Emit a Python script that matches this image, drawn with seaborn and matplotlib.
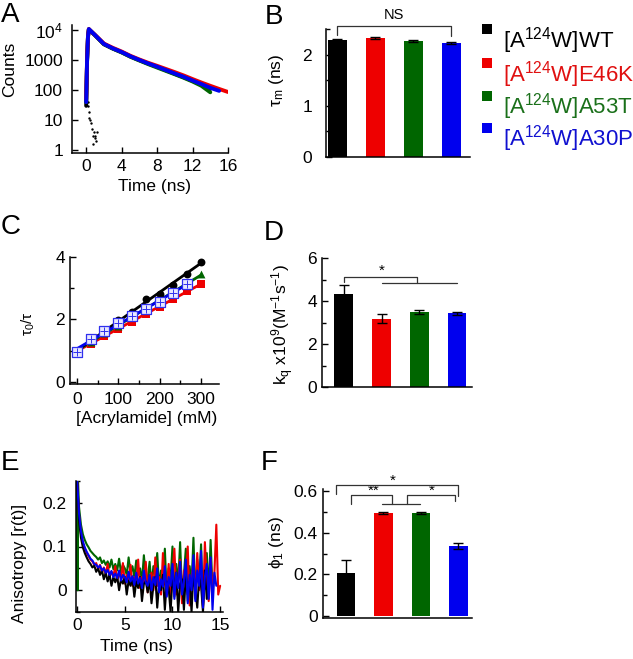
import numpy as np
import pandas as pd
import matplotlib
matplotlib.use("Agg")
import matplotlib.pyplot as plt
import seaborn as sns
from matplotlib.patches import Rectangle
from matplotlib.ticker import MultipleLocator, NullLocator, FixedLocator

# ---------------- data ----------------
groups = ["[A$^{124}$W]WT", "[A$^{124}$W]E46K", "[A$^{124}$W]A53T", "[A$^{124}$W]A30P"]
group_keys = ["WT", "E46K", "A53T", "A30P"]
bar_colors = ["#000000", "#ee0000", "#006600", "#0000ee"]
text_colors = ["#000000", "#e01010", "#1a701a", "#1010d0"]

# Panel A: fluorescence decay (counts)
tA = [0.0, 0.1, 0.2, 0.3, 0.6, 1, 2, 3, 4, 5, 6, 7, 8, 9, 10, 11, 12, 13, 14, 15, 16]
countsA_WT = [30, 900, 5800, 10500, 8800, 6800, 3450, 2450, 1850, 1330, 1000, 770, 600, 460, 350, 270, 205, 150, 110]
countsA_E46K = [50, 1100, 6000, 11000, 9000, 7000, 3600, 2600, 1950, 1400, 1060, 820, 650, 510, 400, 310, 235, 180, 140, 110, 87]
countsA_A53T = [40, 950, 5900, 10800, 8900, 6800, 3400, 2450, 1820, 1300, 980, 740, 570, 440, 340, 260, 195, 140, 85]
countsA_A30P = [40, 1000, 6000, 11000, 9000, 6900, 3500, 2500, 1880, 1350, 1020, 780, 610, 470, 360, 280, 210, 160, 120, 95]
irf_t = [0.15, 0.25, 0.3, 0.35, 0.45, 0.55, 0.7, 0.8, 0.9, 1.0, 1.1, 1.2, 0.75, 0.95]
irf_counts = [40, 30, 18, 12, 10, 8, 5, 3, 4, 3, 2, 4, 1.6, 2.5]

# Panel B: mean lifetime
tau_m = [2.28, 2.32, 2.27, 2.23]
tau_m_err = [0.02, 0.02, 0.015, 0.02]

# Panel C: Stern-Volmer
conc = [0, 33, 66, 100, 133, 166, 200, 233, 266, 300]
sv_WT = [1.0, 1.3, 1.6, 1.97, 2.25, 2.65, 2.83, 3.1, 3.45, 3.85]
sv_E46K = [0.98, 1.22, 1.48, 1.7, 1.93, 2.18, 2.4, 2.65, 2.9, 3.13]
sv_A53T = [1.0, 1.28, 1.55, 1.8, 2.08, 2.35, 2.6, 2.87, 3.12, 3.45]
sv_A30P = [0.97, 1.37, 1.63, 1.87, 2.1, 2.32, 2.55, 2.85, 3.15]

# Panel D: quenching constant
kq = [4.31, 3.18, 3.50, 3.43]
kq_err = [0.43, 0.2, 0.1, 0.08]

# Panel E: anisotropy decays (sampled every 0.2 ns)
tE = [round(0.2 * i, 2) for i in range(76)]
rE_WT = [0.25, 0.16, 0.12, 0.098, 0.085, 0.075, 0.066, 0.060, 0.052, 0.056, 0.042,
         0.050, 0.035, 0.045, 0.025, 0.040, 0.020, 0.036, 0.010, 0.030, 0.018,
         0.032, 0.000, 0.025, 0.015, 0.030, -0.010, 0.022, 0.010, 0.028, -0.015,
         0.020, 0.005, 0.030, -0.025, 0.015, 0.020, -0.005, 0.025, -0.030, 0.010,
         0.030, -0.040, 0.015, 0.000, 0.035, -0.045, 0.020, 0.005, -0.050, 0.030,
         0.000, 0.040, -0.050, 0.015, 0.025, -0.045, 0.035, -0.010, 0.020, -0.050,
         0.040, 0.000, -0.040, 0.030, 0.010, -0.050, 0.045, -0.020, 0.015]
rE_E46K = [0.25, 0.17, 0.13, 0.108, 0.095, 0.085, 0.078, 0.070, 0.066, 0.058, 0.062,
           0.048, 0.058, 0.040, 0.052, 0.036, 0.060, 0.030, 0.042, 0.032, 0.055,
           0.022, 0.040, 0.028, 0.062, 0.015, 0.035, 0.025, 0.058, 0.010, 0.030,
           0.020, 0.070, 0.005, 0.030, 0.015, 0.065, -0.005, 0.025, 0.040, 0.000,
           0.075, 0.010, 0.030, -0.010, 0.085, 0.015, 0.000, 0.060, -0.020, 0.040,
           0.095, -0.010, 0.025, 0.070, -0.030, 0.045, 0.010, 0.100, -0.035, 0.030,
           0.060, -0.015, 0.085, 0.000, 0.050, -0.040, 0.110, 0.020, -0.025, 0.070,
           0.005, 0.040, 0.150, -0.010, 0.010]
rE_A53T = [0.25, 0.19, 0.15, 0.128, 0.115, 0.105, 0.098, 0.090, 0.085, 0.080, 0.076,
           0.070, 0.075, 0.062, 0.068, 0.058, 0.066, 0.052, 0.070, 0.048, 0.060,
           0.045, 0.072, 0.040, 0.058, 0.050, 0.035, 0.075, 0.038, 0.055, 0.030,
           0.068, 0.035, 0.050, 0.020, 0.080, 0.030, 0.025, 0.065, 0.010, 0.055,
           0.030, 0.085, 0.005, 0.045, 0.020, 0.095, -0.010, 0.050, 0.025, 0.100,
           -0.015, 0.060, 0.015, 0.110, -0.005, 0.035, 0.095, -0.025, 0.055, 0.010,
           0.120, -0.020, 0.070, 0.020, 0.105, -0.035, 0.050, 0.085, -0.010, 0.115,
           0.000]
rE_A30P = [0.25, 0.175, 0.135, 0.112, 0.098, 0.088, 0.080, 0.072, 0.068, 0.060, 0.058,
           0.052, 0.056, 0.045, 0.050, 0.040, 0.046, 0.035, 0.044, 0.030, 0.038,
           0.028, 0.045, 0.022, 0.035, 0.030, 0.018, 0.042, 0.020, 0.032, 0.012,
           0.040, 0.015, 0.028, 0.005, 0.045, 0.018, 0.010, 0.035, 0.000, 0.030,
           0.012, 0.050, -0.005, 0.025, 0.008, 0.055, -0.015, 0.030, 0.010, 0.060,
           -0.020, 0.040, 0.005, 0.065, -0.010, 0.020, 0.070, -0.030, 0.035, 0.000,
           0.080, -0.025, 0.045, 0.010, 0.090, -0.040, 0.030, 0.060, -0.020, 0.075,
           -0.045, 0.040, 0.010]
rE_A53T_start_t = [0.0, 0.03, 0.06, 0.09]
rE_A53T_start = [0.0, 0.25, 0.0, 0.25]

# Panel F: rotational correlation time
phi1 = [0.205, 0.495, 0.495, 0.335]
phi1_err = [0.065, 0.005, 0.005, 0.015]

# ---------------- style ----------------
sns.set_theme(style="ticks", rc={
    "axes.edgecolor": "black", "xtick.color": "black", "ytick.color": "black",
    "text.color": "black", "axes.labelcolor": "black", "axes.linewidth": 1.1,
})
plt.rcParams['font.family'] = ['Liberation Sans', 'DejaVu Sans']
plt.rcParams['mathtext.default'] = 'regular'

W, H = 633, 659
fig = plt.figure(figsize=(W / 100, H / 100), dpi=100)
fig.patch.set_facecolor("white")
FS = 12.5


def add_ax(x0, y0, x1, y1):
    ax = fig.add_axes([x0 / W, 1 - y1 / H, (x1 - x0) / W, (y1 - y0) / H])
    ax.set_facecolor("none")
    sns.despine(ax=ax)
    return ax


def ylab(ax, text, xp, yp, fs=FS):
    ax.set_ylabel(text, fontsize=fs, ha="center", va="center")
    ax.yaxis.set_label_coords(xp / W, 1 - yp / H, transform=fig.transFigure)


def xlab(ax, text, xp, yp, fs=FS):
    ax.set_xlabel(text, fontsize=fs, ha="center", va="center")
    ax.xaxis.set_label_coords(xp / W, 1 - yp / H, transform=fig.transFigure)


def ticks(ax, xpad=4.3, ypad=4):
    ax.tick_params(axis="both", which="both", direction="in", width=1.0, labelsize=FS)
    ax.tick_params(axis="both", which="major", length=4)
    ax.tick_params(axis="both", which="minor", length=3)
    ax.tick_params(axis="x", pad=xpad)
    ax.tick_params(axis="y", pad=ypad)


def bar_panel(ax, vals, errs, ylim):
    df = pd.DataFrame({"g": group_keys, "v": vals})
    sns.barplot(data=df, x="g", y="v", hue="g", palette=dict(zip(group_keys, bar_colors)),
                width=0.5, saturation=1, linewidth=0, legend=False, ax=ax)
    ax.errorbar(range(len(vals)), vals, yerr=errs, fmt="none", ecolor="black",
                elinewidth=1.0, capsize=3.5, capthick=1.0, zorder=5)
    ax.set_ylim(*ylim)
    ax.set_xticks([])
    ax.set_xlabel("")


def bracket(ax, pts, lw=0.9):
    xs, ys = zip(*pts)
    ax.plot(xs, ys, color="#333333", lw=lw, clip_on=False, zorder=6)


# ---------------- Panel A ----------------
axA = add_ax(72, 25, 228, 153)
axA.set_yscale("log")
series_A = [(countsA_WT, "#000000"), (countsA_A53T, "#006600"), (countsA_E46K, "#ee0000"),
            (countsA_A30P, "#0000ee")]
for vals, col in series_A:
    sns.lineplot(x=tA[:len(vals)], y=vals, color=col, lw=2.8, ax=axA, sort=False)
sns.scatterplot(x=irf_t, y=irf_counts, color="black", s=3, linewidth=0, ax=axA)
axA.set_xlim(-1.6, 16)
axA.set_ylim(0.8, 1.5e4)
axA.yaxis.set_major_locator(FixedLocator([1, 10, 100, 1000, 10000]))
axA.set_yticklabels(["1", "10", "100", "1000", "10$^4$"])
axA.yaxis.set_minor_locator(NullLocator())
axA.set_xticks([0, 4, 8, 12, 16])
ticks(axA, xpad=4.3, ypad=6.5)
ylab(axA, "Counts", 10, 69)
xlab(axA, "Time (ns)", 154, 186)

# ---------------- Panel B ----------------
axB = add_ax(326, 29, 470, 157)
bar_panel(axB, tau_m, tau_m_err, (0, 2.5))
axB.set_xlim(-0.3, 3.5)
axB.set_yticks([0, 1, 2])
axB.yaxis.set_minor_locator(MultipleLocator(0.5))
ticks(axB, ypad=10)
ylab(axB, "τ$_m$ (ns)", 276, 80)
bracket(axB, [(0, 2.38), (0, 2.55), (3, 2.55), (3, 2.37)])
axB.text(1.5, 2.63, "NS", ha="center", va="bottom", fontsize=10.5, clip_on=False)

# legend
leg_base = [47, 81, 114, 146]
for lab, col, tcol, yb in zip(groups, bar_colors, text_colors, leg_base):
    fig.add_artist(Rectangle((482 / W, 1 - (yb - 13) / H), 10 / W, 10 / H,
                             transform=fig.transFigure, facecolor=col, edgecolor="none"))
    fig.text(503 / W, 1 - yb / H, lab, color=tcol, fontsize=16, ha="left", va="baseline")

# ---------------- Panel C ----------------
axC = add_ax(70, 257, 219, 384)
c_series = [(sv_E46K, "#ee0000", "s"), (sv_A53T, "#006600", "^"), (sv_WT, "#000000", "o")]
for vals, col, mk in c_series:
    x = conc[:len(vals)]
    sns.regplot(x=x, y=vals, ci=None, scatter=False, color=col, truncate=True,
                line_kws={"lw": 2.0}, ax=axC)
    sns.scatterplot(x=x, y=vals, color=col, marker=mk, s=32, linewidth=0, ax=axC, zorder=4)
xb = conc[:len(sv_A30P)]
sns.regplot(x=xb, y=sv_A30P, ci=None, scatter=False, color="#0000ee", truncate=True,
            line_kws={"lw": 2.0}, ax=axC)
sns.scatterplot(x=xb, y=sv_A30P, marker="s", s=45, facecolor="#e8e8ff", edgecolor="#3030ee",
                linewidth=0.9, ax=axC, zorder=5)
sns.scatterplot(x=xb, y=sv_A30P, marker="+", s=30, color="#3030ee", linewidth=0.7, ax=axC, zorder=6)
axC.set_xlim(-17, 344)
axC.set_ylim(-0.07, 4.0)
axC.set_xticks([0, 100, 200, 300])
axC.xaxis.set_minor_locator(MultipleLocator(50))
axC.set_yticks([0, 2, 4])
axC.yaxis.set_minor_locator(MultipleLocator(1))
ticks(axC, xpad=5.5, ypad=3.6)
ylab(axC, "τ$_0$/τ", 28, 324, fs=11)
xlab(axC, "[Acrylamide] (mM)", 147, 418)

# ---------------- Panel D ----------------
axD = add_ax(322, 258, 472, 387)
bar_panel(axD, kq, kq_err, (0, 6))
axD.set_xlim(-0.58, 3.4)
axD.set_yticks([0, 2, 4, 6])
axD.yaxis.set_minor_locator(MultipleLocator(1))
ticks(axD, ypad=3.6)
ylab(axD, "k$_q$ x10$^9$(M$^{-1}$s$^{-1}$)", 283, 325)
bracket(axD, [(0, 4.9), (0, 5.13), (1.95, 5.13), (1.95, 4.84)])
bracket(axD, [(1, 4.84), (3, 4.84)])
axD.text(1.0, 5.08, "*", ha="center", va="bottom", fontsize=11, clip_on=False)

# ---------------- Panel E ----------------
axE = add_ax(76, 481, 223, 612)
e_series = [(rE_A53T_start_t + tE[1:len(rE_A53T)], rE_A53T_start + rE_A53T[1:], "#006600"),
            (tE[:len(rE_E46K)], rE_E46K, "#ee0000"),
            (tE[:len(rE_WT)], rE_WT, "#000000"),
            (tE[:len(rE_A30P)], rE_A30P, "#0000ee")]
for tt, vals, col in e_series:
    sns.lineplot(x=tt, y=vals, color=col, lw=1.5, ax=axE, sort=False)
axE.set_xlim(-0.12, 15.3)
axE.set_ylim(-0.05, 0.25)
axE.set_xticks([0, 5, 10, 15])
axE.set_yticks([0, 0.1, 0.2])
axE.set_yticklabels(["0", "0.1", "0.2"])
axE.yaxis.set_minor_locator(MultipleLocator(0.05))
ticks(axE, xpad=4.3, ypad=6.5)
ylab(axE, "Anisotropy [r(t)]", 20, 563)
xlab(axE, "Time (ns)", 137, 647)

# ---------------- Panel F ----------------
axF = add_ax(323, 489, 472, 618)
bar_panel(axF, phi1, phi1_err, (-0.01, 0.61))
axF.set_xlim(-0.61, 3.36)
axF.set_yticks([0, 0.2, 0.4, 0.6])
axF.set_yticklabels(["0", "0.2", "0.4", "0.6"])
axF.yaxis.set_minor_locator(MultipleLocator(0.1))
ticks(axF, ypad=3.6)
ylab(axF, "ϕ$_1$ (ns)", 277, 543)
bracket(axF, [(-0.27, 0.585), (-0.27, 0.627), (3.0, 0.627), (3.0, 0.575)])
bracket(axF, [(0.13, 0.54), (0.13, 0.58), (1.23, 0.58), (1.23, 0.54)])
bracket(axF, [(0.96, 0.54), (1.97, 0.54)])
bracket(axF, [(1.63, 0.54), (1.63, 0.58), (2.9, 0.58), (2.9, 0.55)])
axF.text(1.25, 0.615, "*", ha="center", va="bottom", fontsize=11, clip_on=False)
axF.text(0.75, 0.568, "**", ha="center", va="bottom", fontsize=11, clip_on=False)
axF.text(2.3, 0.568, "*", ha="center", va="bottom", fontsize=11, clip_on=False)

# ---------------- panel letters ----------------
for letter, xp, yp in [("A", 1, 2), ("B", 265, 4), ("C", 1, 214), ("D", 264, 220),
                       ("E", 1, 450), ("F", 261, 450)]:
    fig.text(xp / W, 1 - yp / H, letter, fontsize=20, ha="left", va="top")

fig.savefig("out.png", dpi=100, facecolor="white")
